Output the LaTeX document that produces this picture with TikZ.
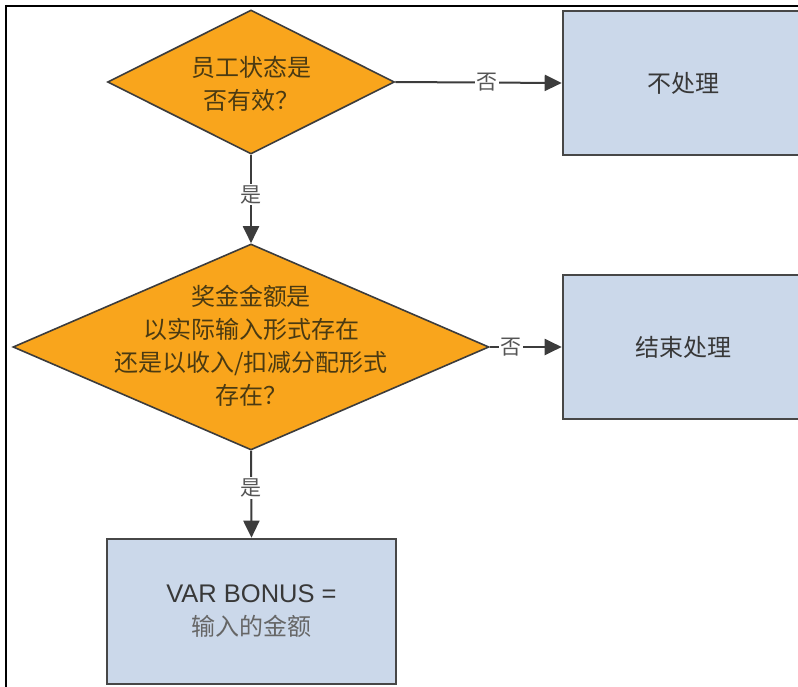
\documentclass[tikz,border=0pt]{standalone}
\usepackage{fontspec}
\setmainfont{Liberation Sans}
\newfontfamily\cjk{Noto Sans CJK SC}
\usetikzlibrary{shapes.geometric,arrows.meta}
\definecolor{orangefill}{HTML}{F9A51C}
\definecolor{boxfill}{HTML}{CBD8EA}
\definecolor{edgegray}{HTML}{3C3C3C}
\definecolor{boxedge}{HTML}{474747}
\definecolor{dtext}{HTML}{4A3A12}
\definecolor{btext}{HTML}{383838}
\definecolor{ltext}{HTML}{666666}
\definecolor{lbltext}{HTML}{555555}
\tikzset{
  dia/.style={shape=diamond, draw=edgegray, line width=1.6pt, fill=orangefill, inner sep=0pt},
  diatext/.style={align=center, text=dtext, font=\cjk\fontsize{24}{33}\selectfont, inner sep=0pt},
  boxnode/.style={rectangle, draw=boxedge, line width=2.6pt, fill=boxfill, minimum width=240pt, minimum height=144pt, inner sep=0pt, align=center, text=btext, font=\cjk\fontsize{24}{33}\selectfont},
  arr/.style={draw=edgegray, line width=2pt, -{Triangle[length=17pt,width=16pt]}},
  lbl/.style={fill=white, inner sep=1.5pt, text=lbltext, font=\cjk\fontsize{21}{21}\selectfont}
}
\begin{document}
\begin{tikzpicture}[x=1pt,y=-1pt]
\useasboundingbox (0,0) rectangle (798,687);
\fill[white] (0,0) rectangle (798,687);
% frame
\draw[black, line width=2.5pt] (5,6) -- (800,6);
\draw[black, line width=2.5pt] (6,5) -- (6,690);
% decisions
\node[dia, minimum width=287pt, minimum height=144pt] (d1) at (251,82) {};
\node[diatext] (d1t) at (251,84) {员工状态是\\否有效？};
\node[dia, minimum width=476pt, minimum height=206pt] (d2) at (251,347) {};
\node[diatext] (d2t) at (251,346) {奖金金额是\\以实际输入形式存在\\还是以收入/扣减分配形式\\存在？};
% boxes
\node[boxnode] (b1) at (683,83) {不处理};
\node[boxnode] (b2) at (683,347) {结束处理};
\node[boxnode, minimum width=289pt, minimum height=145pt] (b3) at (251.5,611.5) {{\fontsize{25.5}{33}\selectfont\rmfamily VAR BONUS =}\\{\color{ltext}输入的金额}};
% connectors
\draw[arr] (d1.east) -- node[lbl, pos=0.55] (l1) {否} (b1.west);
\draw[arr] (d1.south) -- node[lbl, pos=0.45] (l2) {是} (d2.north);
\draw[arr] (d2.east) -- node[lbl, pos=0.3] (l3) {否} (b2.west);
\draw[arr] (d2.south) -- node[lbl, pos=0.43] (l4) {是} (b3.north);
\end{tikzpicture}
\end{document}
